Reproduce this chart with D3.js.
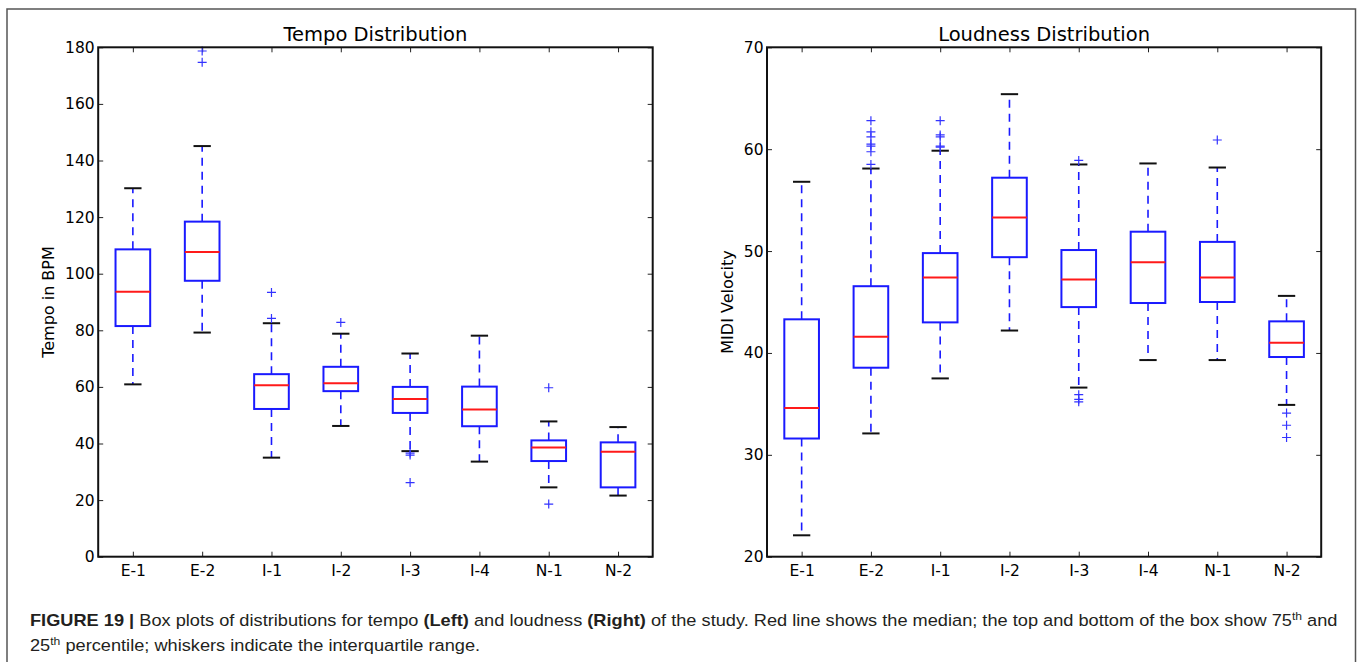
<!DOCTYPE html>
<html lang="en">
<head>
<meta charset="UTF-8">
<title>Tempo and loudness box plots</title>
<script src="https://d3js.org/d3.v7.min.js"></script>
<style>
  body { margin: 0; background: #fff; overflow: hidden; }
  svg text { font-family: "DejaVu Sans", sans-serif; fill: #000; }
  .caption text { font-family: "Liberation Sans", Arial, sans-serif; fill: #231f20; }
</style>
</head>
<body>
<svg id="fig" width="1358" height="662"></svg>
<script>
// --- data ---
const groups = ["E-1", "E-2", "I-1", "I-2", "I-3", "I-4", "N-1", "N-2"];

// tempo (BPM): whisker ends, quartiles, median, outliers
const tempoLow  = [60.9, 79.2, 35.0, 46.2, 37.3, 33.6, 24.5, 21.6];
const tempoQ1   = [81.5, 97.5, 52.2, 58.5, 50.8, 46.1, 33.8, 24.5];
const tempoMed  = [93.6, 107.7, 60.6, 61.3, 55.7, 52.0, 38.6, 37.1];
const tempoQ3   = [108.6, 118.4, 64.5, 67.1, 60.0, 60.1, 41.1, 40.4];
const tempoHigh = [130.2, 145.1, 82.5, 78.8, 71.8, 78.1, 47.8, 45.8];
const tempoOut  = [[], [174.7, 178.7], [84.2, 93.4], [82.8], [36.6, 35.9, 26.2], [], [59.7, 18.6], []];
const tempoTicks = [0, 20, 40, 60, 80, 100, 120, 140, 160, 180];

// loudness (MIDI velocity)
const loudLow  = [22.1, 32.1, 37.5, 42.2, 36.6, 39.3, 39.3, 34.9];
const loudQ1   = [31.6, 38.55, 43.0, 49.4, 44.5, 44.9, 45.0, 39.6];
const loudMed  = [34.6, 41.6, 47.4, 53.3, 47.2, 48.9, 47.4, 41.0];
const loudQ3   = [43.3, 46.55, 49.8, 57.2, 50.1, 51.9, 50.9, 43.1];
const loudHigh = [56.8, 58.1, 59.85, 65.4, 58.5, 58.6, 58.2, 45.6];
const loudOut  = [[], [58.5, 59.75, 60.3, 60.5, 61.2, 61.7, 62.8], [60.2, 60.3, 61.2, 61.4, 62.8],
                  [], [58.9, 35.9, 35.45, 35.2], [], [60.9], [34.1, 32.9, 31.7]];
const loudTicks = [20, 30, 40, 50, 60, 70];

const svg = d3.select("#fig");

// outer figure frame
svg.append("rect")
    .attr("x", 7).attr("y", 9)
    .attr("width", 1348.5).attr("height", 700)
    .attr("fill", "none").attr("stroke", "#555").attr("stroke-width", 1.5);

function drawPanel(opt) {
    const x = d3.scaleLinear().domain([0.5, groups.length + 0.5]).range([opt.left, opt.right]);
    const y = d3.scaleLinear().domain(opt.domain).range([opt.bottom, opt.top]);
    const g = svg.append("g");

    const rows = groups.map((name, i) => ({
        name, pos: i + 1,
        lo: opt.low[i], q1: opt.q1[i], med: opt.med[i], q3: opt.q3[i], hi: opt.high[i], out: opt.out[i]
    }));
    const half = x(1.25) - x(1);
    const capHalf = x(1.125) - x(1);

    // ticks, pointing inward on all four sides
    const left = g.append("g").attr("transform", `translate(${opt.left},0)`)
        .call(d3.axisLeft(y).tickValues(opt.ticks).tickSize(-5).tickPadding(3.5));
    g.append("g").attr("transform", `translate(${opt.right},0)`)
        .call(d3.axisRight(y).tickValues(opt.ticks).tickSize(-5).tickFormat(""));
    g.append("g").attr("transform", `translate(0,${opt.top})`)
        .call(d3.axisTop(x).tickValues(rows.map(d => d.pos)).tickSize(-5).tickFormat(""));
    const bottom = g.append("g").attr("transform", `translate(0,${opt.bottom})`)
        .call(d3.axisBottom(x).tickValues(rows.map(d => d.pos)).tickSize(-5).tickPadding(8)
            .tickFormat(p => groups[p - 1]));
    g.selectAll(".domain").remove();
    g.selectAll(".tick line").attr("stroke", "#222").attr("stroke-width", 1);
    left.selectAll("text").attr("font-size", 15.5).attr("font-family", "DejaVu Sans");
    bottom.selectAll("text").attr("font-size", 15.5).attr("font-family", "DejaVu Sans");

    const box = g.selectAll(".box").data(rows).enter().append("g");

    // dashed whiskers
    box.append("line")
        .attr("x1", d => x(d.pos)).attr("x2", d => x(d.pos))
        .attr("y1", d => y(d.q3)).attr("y2", d => y(d.hi))
        .attr("stroke", "#1a1aff").attr("stroke-width", 1.6).attr("stroke-dasharray", "8,6");
    box.append("line")
        .attr("x1", d => x(d.pos)).attr("x2", d => x(d.pos))
        .attr("y1", d => y(d.q1)).attr("y2", d => y(d.lo))
        .attr("stroke", "#1a1aff").attr("stroke-width", 1.6).attr("stroke-dasharray", "8,6");

    // caps
    ["hi", "lo"].forEach(k => {
        box.append("line")
            .attr("x1", d => x(d.pos) - capHalf).attr("x2", d => x(d.pos) + capHalf)
            .attr("y1", d => y(d[k])).attr("y2", d => y(d[k]))
            .attr("stroke", "#111").attr("stroke-width", 2);
    });

    // boxes
    box.append("rect")
        .attr("x", d => x(d.pos) - half).attr("width", 2 * half)
        .attr("y", d => y(d.q3)).attr("height", d => y(d.q1) - y(d.q3))
        .attr("fill", "#fff").attr("stroke", "#1a1aff").attr("stroke-width", 2);

    // medians
    box.append("line")
        .attr("x1", d => x(d.pos) - half).attr("x2", d => x(d.pos) + half)
        .attr("y1", d => y(d.med)).attr("y2", d => y(d.med))
        .attr("stroke", "#ff1a1a").attr("stroke-width", 2);

    // fliers as "+"
    const pts = rows.flatMap(d => d.out.map(v => ({ pos: d.pos, v })));
    g.selectAll(".flier").data(pts).enter().append("path")
        .attr("d", d => {
            const cx = x(d.pos), cy = y(d.v);
            return `M${cx - 4.5},${cy}H${cx + 4.5}M${cx},${cy - 4.5}V${cy + 4.5}`;
        })
        .attr("stroke", "#3333ff").attr("stroke-width", 1.2).attr("fill", "none");

    // axes frame
    g.append("rect")
        .attr("x", opt.left).attr("y", opt.top)
        .attr("width", opt.right - opt.left).attr("height", opt.bottom - opt.top)
        .attr("fill", "none").attr("stroke", "#111").attr("stroke-width", 2);

    // title and y label
    svg.append("text")
        .attr("x", (opt.left + opt.right) / 2).attr("y", 40.5)
        .attr("text-anchor", "middle").attr("font-size", 19.5)
        .text(opt.title);
    svg.append("text")
        .attr("transform", `translate(${opt.labelX},${(opt.top + opt.bottom) / 2}) rotate(-90)`)
        .attr("text-anchor", "middle").attr("font-size", 16)
        .text(opt.ylabel);
}

drawPanel({
    left: 98.2, right: 652.7, top: 47.3, bottom: 556.7,
    domain: [0, 180], ticks: tempoTicks,
    low: tempoLow, q1: tempoQ1, med: tempoMed, q3: tempoQ3, high: tempoHigh, out: tempoOut,
    title: "Tempo Distribution", ylabel: "Tempo in BPM", labelX: 54.3
});

drawPanel({
    left: 767, right: 1321.2, top: 47.3, bottom: 556.7,
    domain: [20, 70], ticks: loudTicks,
    low: loudLow, q1: loudQ1, med: loudMed, q3: loudQ3, high: loudHigh, out: loudOut,
    title: "Loudness Distribution", ylabel: "MIDI Velocity", labelX: 732.7
});

// --- caption ---
const cap = svg.append("g").attr("class", "caption");
const line1 = cap.append("text").attr("font-size", 16.5);
const parts1 = [
    ["FIGURE 19 | ", true], ["Box plots of distributions for tempo ", false], ["(Left)", true],
    [" and loudness ", false], ["(Right)", true],
    [" of the study. Red line shows the median; the top and bottom of the box show 75", false]
];
parts1.forEach(([t, b]) => line1.append("tspan").attr("font-weight", b ? "bold" : "normal").text(t));
line1.append("tspan").attr("baseline-shift", "super").attr("font-size", 11).text("th");
line1.append("tspan").text(" and");

const line2 = cap.append("text").attr("font-size", 16.5);
line2.append("tspan").text("25");
line2.append("tspan").attr("baseline-shift", "super").attr("font-size", 11).text("th");
line2.append("tspan").text(" percentile; whiskers indicate the interquartile range.");

// fit line 1 to its width in the figure and use the same squeeze for line 2
const natural = line1.node().getComputedTextLength();
const sx = (1339 - 30) / natural;
line1.attr("transform", `translate(30,626) scale(${sx},1)`);
line2.attr("transform", `translate(30,651) scale(${sx},1)`);
</script>
</body>
</html>
